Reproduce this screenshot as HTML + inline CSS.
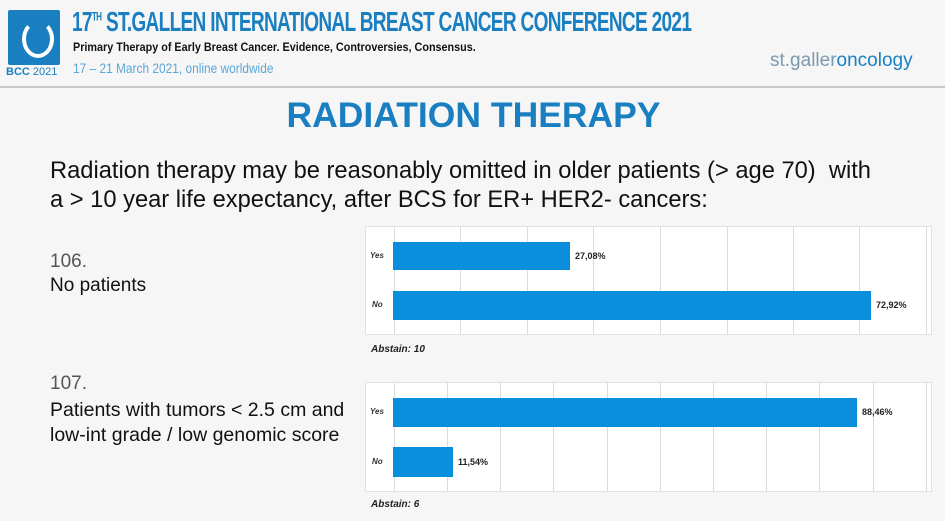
<!DOCTYPE html>
<html><head><meta charset="utf-8"><style>
body{margin:0;width:945px;height:521px;background:#f6f6f6;position:relative;overflow:hidden;font-family:"Liberation Sans",sans-serif}
.a{position:absolute;white-space:nowrap}
.hdr{font-family:"Liberation Sans Narrow","Liberation Sans",sans-serif;font-weight:bold}
.box{position:absolute;left:365px;width:565px;background:#fff;border:1px solid #e2e2e2}
.g{position:absolute;top:0;bottom:0;width:1px;background:#dcdcdc}
.bar{position:absolute;left:393px;background:#0a8fdc}
.lbl{position:absolute;font-size:8px;font-weight:bold;font-style:italic;color:#333}
.val{position:absolute;font-size:9px;font-weight:bold;color:#222}
.ab{position:absolute;left:371px;font-size:10px;font-weight:bold;font-style:italic;color:#222}
</style></head><body>
<div class="a" style="left:8px;top:10px;width:52px;height:55px;background:#1a7fc1;border-radius:2px"></div>
<div class="a" style="left:22px;top:20px;width:24px;height:30px;border-radius:50%;border:4px solid #fff;border-top-color:transparent"></div>
<div class="a hdr" style="left:6px;top:66px;font-size:11px;color:#1a7fc1">BCC <span style="font-weight:normal">2021</span></div>
<div class="a hdr" style="left:72px;top:6px;font-size:28px;color:#1a7fc1;letter-spacing:-1px;transform:scaleX(0.68);transform-origin:left">17<sup style="font-size:12px">TH</sup> ST.GALLEN INTERNATIONAL BREAST CANCER CONFERENCE 2021</div>
<div class="a hdr" style="left:73px;top:40px;font-size:12px;color:#111;transform:scaleX(0.9);transform-origin:left">Primary Therapy of Early Breast Cancer. Evidence, Controversies, Consensus.</div>
<div class="a" style="left:73px;top:60px;font-size:14px;color:#5aa7d8;transform:scaleX(0.85);transform-origin:left">17 – 21 March 2021, online worldwide</div>
<div class="a" style="left:770px;top:50px;font-size:19px;color:#7a9ab0">st.galler<span style="color:#1a7fc1">oncology</span></div>
<div class="a" style="left:0;top:86px;width:945px;height:2px;background:#c8c8c8"></div>
<div class="a" style="left:0;right:0;top:95px;text-align:center;font-size:35.5px;font-weight:bold;color:#1a7fc1;padding-left:2px">RADIATION THERAPY</div>
<div class="a" style="left:50px;top:157px;font-size:23.7px;color:#111;line-height:29px">Radiation therapy may be reasonably omitted in older patients (&gt; age 70)&nbsp; with<br>a &gt; 10 year life expectancy, after BCS for ER+ HER2- cancers:</div>
<div class="a" style="left:50px;top:251px;font-size:19px;color:#555">106.</div>
<div class="a" style="left:50px;top:275px;font-size:19px;color:#111">No patients</div>
<div class="a" style="left:50px;top:373px;font-size:19px;color:#555">107.</div>
<div class="a" style="left:50px;top:398px;font-size:19.5px;color:#111;line-height:25px">Patients with tumors &lt; 2.5 cm and<br>low-int grade / low genomic score</div>

<div class="box" style="top:226px;height:107px">
<div class="g" style="left:28px"></div><div class="g" style="left:94px"></div><div class="g" style="left:161px"></div><div class="g" style="left:227px"></div><div class="g" style="left:294px"></div><div class="g" style="left:361px"></div><div class="g" style="left:427px"></div><div class="g" style="left:493px"></div><div class="g" style="left:560px"></div>
</div>
<div class="bar" style="top:242px;height:28px;width:177px"></div>
<div class="bar" style="top:291px;height:29px;width:478px"></div>
<div class="lbl" style="left:370px;top:251px">Yes</div><div class="lbl" style="left:372px;top:300px">No</div>
<div class="val" style="left:575px;top:251px">27,08%</div><div class="val" style="left:876px;top:300px">72,92%</div>
<div class="ab" style="top:344px">Abstain: 10</div>

<div class="box" style="top:382px;height:108px">
<div class="g" style="left:28px"></div><div class="g" style="left:81px"></div><div class="g" style="left:134px"></div><div class="g" style="left:187px"></div><div class="g" style="left:241px"></div><div class="g" style="left:294px"></div><div class="g" style="left:347px"></div><div class="g" style="left:400px"></div><div class="g" style="left:453px"></div><div class="g" style="left:507px"></div><div class="g" style="left:560px"></div>
</div>
<div class="bar" style="top:398px;height:29px;width:464px"></div>
<div class="bar" style="top:447px;height:30px;width:60px"></div>
<div class="lbl" style="left:370px;top:407px">Yes</div><div class="lbl" style="left:372px;top:457px">No</div>
<div class="val" style="left:862px;top:407px">88,46%</div><div class="val" style="left:458px;top:457px">11,54%</div>
<div class="ab" style="top:499px">Abstain: 6</div>
</body></html>
